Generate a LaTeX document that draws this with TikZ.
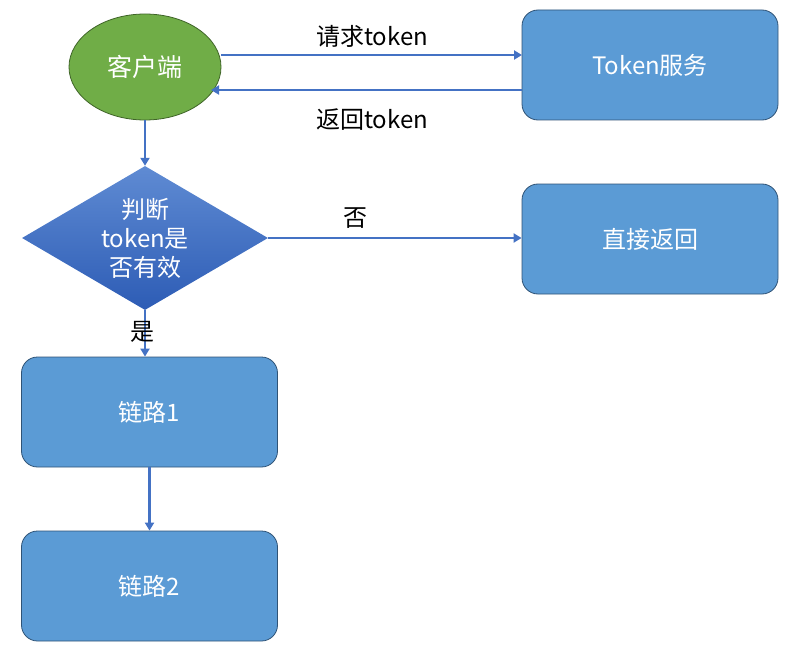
\documentclass[tikz,border=0pt]{standalone}
\usepackage{fontspec}
\setmainfont{Noto Sans CJK SC}
\usetikzlibrary{shapes.geometric,arrows.meta}
\definecolor{boxfill}{HTML}{5B9BD5}
\definecolor{boxline}{HTML}{2F5376}
\definecolor{greenfill}{HTML}{70AD47}
\definecolor{greenline}{HTML}{3F6428}
\definecolor{arrowc}{HTML}{4472C4}
\definecolor{diamtop}{HTML}{5F8BD3}
\definecolor{diambot}{HTML}{2D5CB5}
\begin{document}
\begin{tikzpicture}[x=1pt,y=-1pt,
  stepbox/.style={draw=boxline,line width=0.8pt,fill=boxfill,rounded corners=16pt,minimum width=256pt,minimum height=110pt,text=white,font=\fontsize{24}{29}\selectfont,inner sep=0pt},
  conn/.style={draw=arrowc,line width=2.4pt,-{Triangle[length=8pt,width=9pt]}},
  lbl/.style={font=\fontsize{24}{29}\selectfont,text=black}]
\useasboundingbox (0,0) rectangle (807,669);
\node[ellipse,draw=greenline,line width=0.8pt,fill=greenfill,minimum width=152pt,minimum height=106pt,inner sep=0pt,text=white,font=\fontsize{25}{30}\selectfont] (client) at (145,67) {客户端};
\node[stepbox] (svc) at (650,65) {Token服务};
\node[diamond,top color=diamtop,bottom color=diambot,aspect=1.71,minimum width=246pt,minimum height=144pt,inner sep=0pt,text=white,align=center,font=\fontsize{24}{29}\selectfont] (judge) at (145,238) {判断\\token是\\否有效};
\node[stepbox] (ret) at (650,239) {直接返回};
\node[stepbox] (l1) at (149.5,412) {链路1};
\node[stepbox] (l2) at (149.5,586) {链路2};
\coordinate (c1) at (221,55);
\coordinate (c2) at (522,55);
\coordinate (c3) at (522,90);
\coordinate (c4) at (211,90);
\draw[conn] (c1) -- (c2);
\draw[conn] (c3) -- (c4);
\node[lbl] (lreq) at (372,36) {请求token};
\node[lbl] (lret) at (372,120) {返回token};
\draw[conn] (client.south) -- (judge.north);
\draw[conn] (judge.east) -- (judge.east -| ret.west);
\node[lbl] (lno) at (355,218) {否};
\draw[conn] (judge.south) -- (judge.south |- l1.north);
\node[lbl] (lyes) at (142,332) {是};
\draw[conn] (l1.south) -- (l2.north);
\end{tikzpicture}
\end{document}
